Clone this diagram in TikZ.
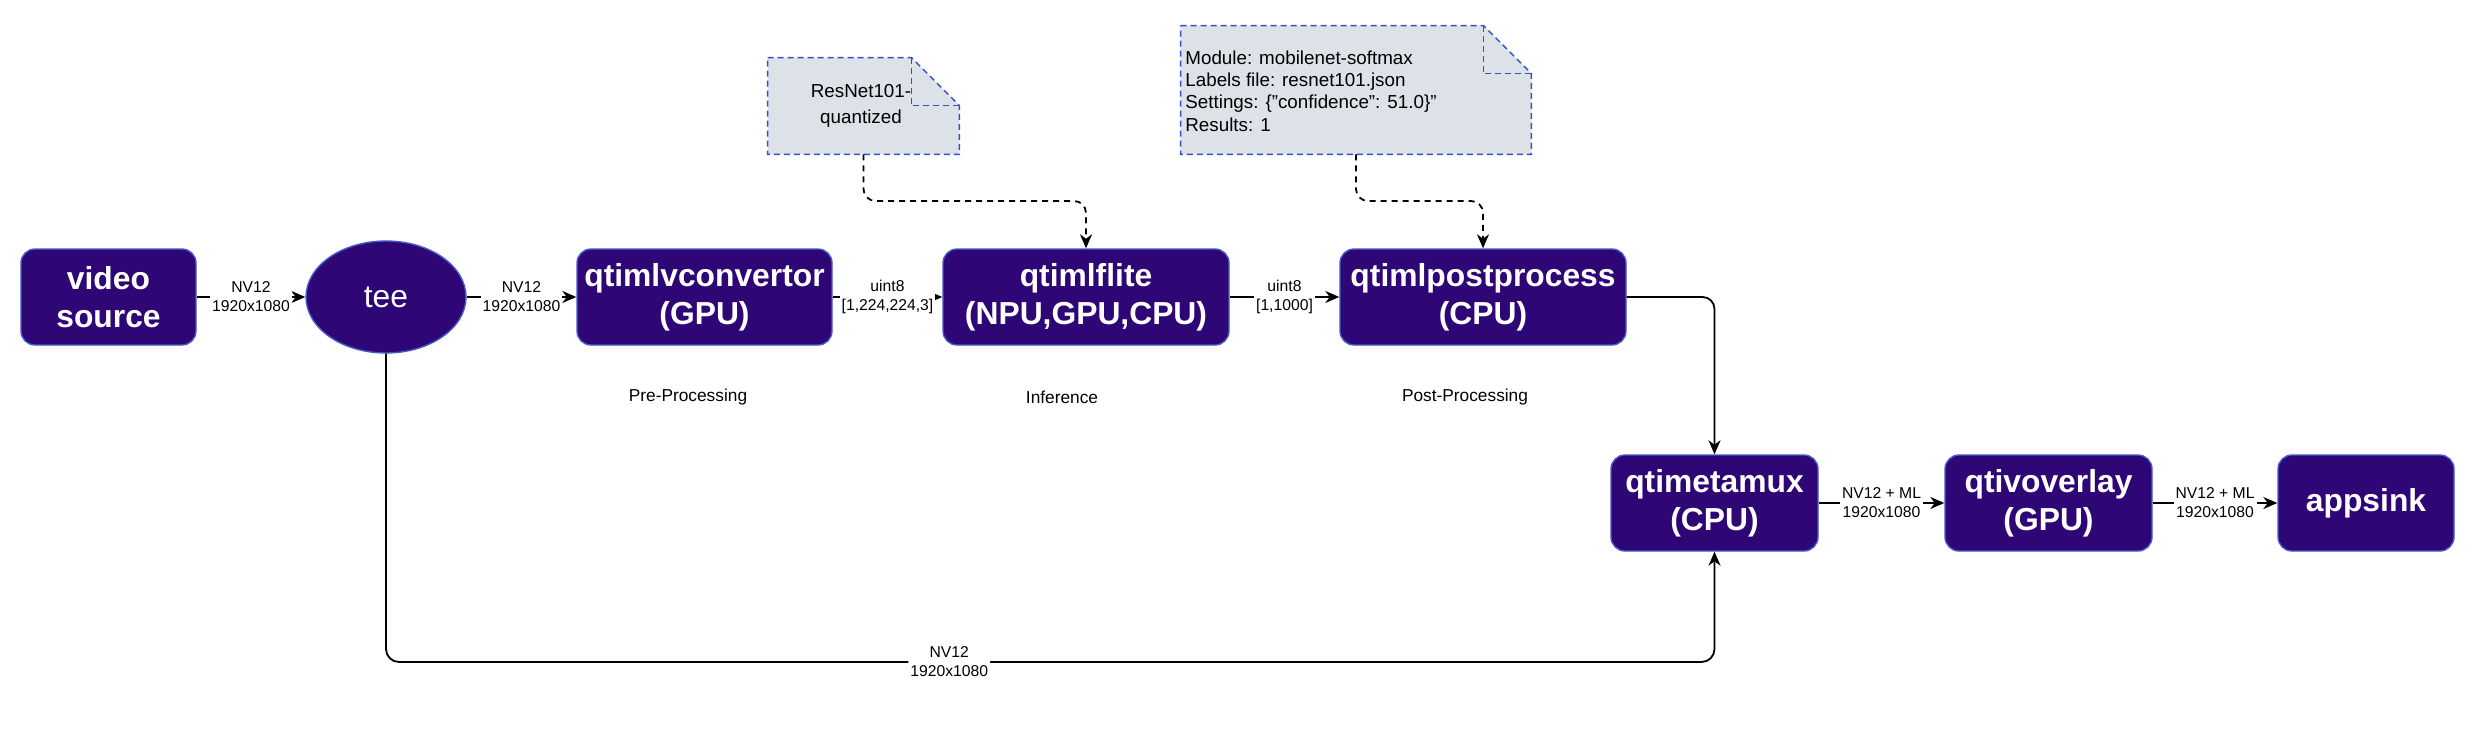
\documentclass[tikz,border=0pt]{standalone}
\usepackage{fontspec}
\setmainfont{Liberation Sans}
\usetikzlibrary{arrows.meta,shapes.geometric}
\definecolor{boxfill}{RGB}{46,6,118}
\definecolor{boxline}{RGB}{70,90,200}
\definecolor{notefill}{RGB}{221,225,232}
\definecolor{noteline}{RGB}{50,80,200}
\tikzset{
  blk/.style={rectangle, rounded corners=7pt, fill=boxfill, draw=boxline, line width=0.7pt,
    text=white, font=\fontsize{15.9}{19.2}\selectfont\bfseries, align=center,
    inner sep=0pt, minimum height=48pt},
  teeshape/.style={ellipse, fill=boxfill, draw=boxline, line width=0.7pt, text=white,
    font=\fontsize{15.9}{19.2}\selectfont, inner sep=0pt, minimum width=80pt, minimum height=56pt},
  conn/.style={line width=0.9pt, -{Stealth[length=7pt,width=6pt,inset=2.2pt]}},
  dconn/.style={conn, dash pattern=on 3pt off 2.5pt, rounded corners=6pt},
  elab/.style={fill=white, inner sep=1pt, font=\fontsize{7.85}{9.5}\selectfont, align=center},
  phase/.style={font=\fontsize{8.65}{10}\selectfont, inner sep=0pt},
  notearea/.style={rectangle, inner sep=0pt},
  noteshape/.style={fill=notefill, draw=noteline, line width=0.7pt, dash pattern=on 3pt off 2pt},
  notetext/.style={font=\fontsize{9.4}{11.2}\selectfont, inner sep=0pt}
}
\begin{document}
\begin{tikzpicture}[x=0.5pt,y=-0.5pt]
\useasboundingbox (0,0) rectangle (2478,739);

% main row
\node[blk, minimum width=87.5pt] (video) at (108.5,297) {video\\source};
\node[teeshape] (tee) at (386,297) {tee};
\node[blk, minimum width=127.5pt] (vconv) at (704.5,297) {qtimlvconvertor\\(GPU)};
\node[blk, minimum width=143pt] (flite) at (1086,297) {qtimlflite\\(NPU,GPU,CPU)};
\node[blk, minimum width=143pt] (post) at (1483,297) {qtimlpostprocess\\(CPU)};

% second row
\node[blk, minimum width=103.5pt] (mux) at (1714.5,503) {qtimetamux\\(CPU)};
\node[blk, minimum width=103.5pt] (ovl) at (2048.5,503) {qtivoverlay\\(GPU)};
\node[blk, minimum width=88pt] (sink) at (2366,503) {appsink};

% phase labels
\node[phase] (pre) at (688,397) {Pre-Processing};
\node[phase] (inf) at (1062,397) {Inference};
\node[phase] (postl) at (1465,397) {Post-Processing};

% notes
\node[notearea, minimum width=95.5pt, minimum height=48pt] (note1) at (863.5,106) {};
\draw[noteshape] (note1.north west) -- ([xshift=-24pt]note1.north east)
  -- ([yshift=-24pt]note1.north east) -- (note1.south east) -- (note1.south west) -- cycle;
\draw[noteshape, fill=none] ([xshift=-24pt]note1.north east) -- ([xshift=-24pt,yshift=-24pt]note1.north east)
  -- ([yshift=-24pt]note1.north east);
\node[notetext, align=center] (note1t) at (861,106) {ResNet101-\\[1.8pt]quantized};

\node[notearea, minimum width=175pt, minimum height=64pt] (note2) at (1356,90) {};
\draw[noteshape] (note2.north west) -- ([xshift=-24pt]note2.north east)
  -- ([yshift=-24pt]note2.north east) -- (note2.south east) -- (note2.south west) -- cycle;
\draw[noteshape, fill=none] ([xshift=-24pt]note2.north east) -- ([xshift=-24pt,yshift=-24pt]note2.north east)
  -- ([yshift=-24pt]note2.north east);
\node[notetext, align=left, anchor=west] (note2t) at (1185,91)
  {Module: mobilenet-softmax\\Labels file: resnet101.json\\Settings: \{"confidence": 51.0\}"\\Results: 1};

% helper coordinates
\coordinate (ydash) at (0,201);
\coordinate (ybot) at (0,662);

% dashed connectors from notes
\draw[dconn] (note1.south) -- (note1.south |- ydash) -| (flite.north);
\draw[dconn] (note2.south) -- (note2.south |- ydash) -| (post.north);

% main connectors
\draw[conn] (video) -- node[elab] {NV12\\1920x1080} (tee);
\draw[conn] (tee) -- node[elab] {NV12\\1920x1080} (vconv);
\draw[conn] (vconv) -- node[elab] {uint8\\{[1,224,224,3]}} (flite);
\draw[conn] (flite) -- node[elab] {uint8\\{[1,1000]}} (post);
\draw[conn, rounded corners=6pt] (post.east) -| (mux.north);
\draw[conn, rounded corners=6.5pt] (tee.south) -- (tee.south |- ybot)
  -- node[elab, pos=0.424] {NV12\\1920x1080} (mux.south |- ybot) -- (mux.south);
\draw[conn] (mux) -- node[elab] {NV12 + ML\\1920x1080} (ovl);
\draw[conn] (ovl) -- node[elab] {NV12 + ML\\1920x1080} (sink);
\end{tikzpicture}
\end{document}
